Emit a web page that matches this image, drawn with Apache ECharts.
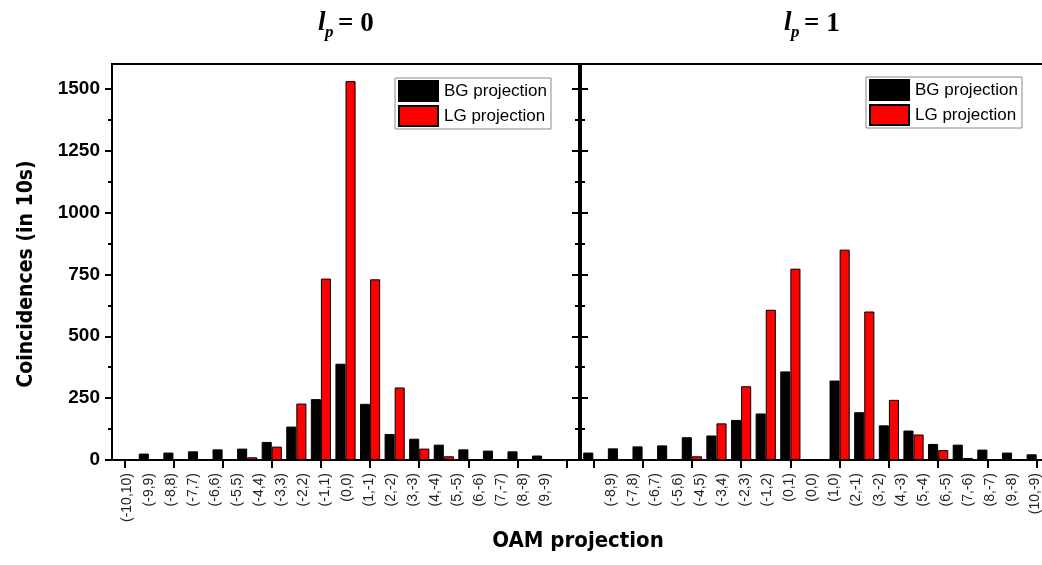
<!DOCTYPE html>
<html><head><meta charset="utf-8">
<script src="https://cdn.jsdelivr.net/npm/echarts@6/dist/echarts.min.js"></script>
<style>html,body{margin:0;padding:0;background:#fff}#c{width:1042px;height:565px}</style>
</head><body><div id="c"></div><script>
// ---- data ----
const leftCategories = ['(-9,9)','(-8,8)','(-7,7)','(-6,6)','(-5,5)','(-4,4)','(-3,3)','(-2,2)','(-1,1)','(0,0)','(1,-1)','(2,-2)','(3,-3)','(4,-4)','(5,-5)','(6,-6)','(7,-7)','(8,-8)','(9,-9)'];
const leftBG = [0,26,30,35,43,46,73,135,246,389,227,105,86,62,43,38,35,18,4];
const leftLG = [0,0,0,0,0,11,54,228,733,1531,730,293,46,15,0,0,0,0,0];
const rightCategories = ['(-8,9)','(-7,8)','(-6,7)','(-5,6)','(-4,5)','(-3,4)','(-2,3)','(-1,2)','(0,1)','(0,0)','(1,0)','(2,-1)','(3,-2)','(4,-3)','(5,-4)','(6,-5)','(7,-6)','(8,-7)','(9,-8)'];
const rightBG = [30,47,55,59,92,99,162,188,358,0,321,193,140,119,65,62,42,30,23];
const rightLG = [0,0,0,4,15,148,298,607,773,0,850,600,243,103,40,8,3,0,0];
const leftTickLabels = ['(-10,10)','(-9,9)','(-8,8)','(-7,7)','(-6,6)','(-5,5)','(-4,4)','(-3,3)','(-2,2)','(-1,1)','(0,0)','(1,-1)','(2,-2)','(3,-3)','(4,-4)','(5,-5)','(6,-6)','(7,-7)','(8,-8)','(9,-9)'];
const rightTickLabels = ['(-8,9)','(-7,8)','(-6,7)','(-5,6)','(-4,5)','(-3,4)','(-2,3)','(-1,2)','(0,1)','(0,0)','(1,0)','(2,-1)','(3,-2)','(4,-3)','(5,-4)','(6,-5)','(7,-6)','(8,-7)','(9,-8)','(10,-9)'];
const yTickValues = [0,250,500,750,1000,1250,1500];
const yMinorTickValues = [125,375,625,875,1125,1375];
const seriesNames = ['BG projection','LG projection'];
const panelTitles = [{l:'l', p:'p', rest:'= 0'}, {l:'l', p:'p', rest:'= 1'}];
const yTitle = 'Coincidences (in 10s)';
const xTitle = 'OAM projection';

// ---- style ----
const BLACK = '#000000', RED = '#ff0000';
const condensed = '"DejaVu Sans Condensed","Liberation Sans Narrow","DejaVu Sans",sans-serif';
const gridTop = 64, gridH = 396;

function yAxisCfg(gridIndex, position, opts) {
  return Object.assign({
    type: 'value', gridIndex, position, min: 0, max: 1600,
    axisLine: {show: false}, splitLine: {show: false},
    axisTick: {show: true, inside: false, length: 7, lineStyle: {color: BLACK, width: 2}, customValues: yTickValues},
    axisLabel: {show: false}
  }, opts || {});
}
function minorY(gridIndex, position, inside) {
  return {
    type: 'value', gridIndex, position, min: 0, max: 1600,
    axisLine: {show: false}, splitLine: {show: false},
    axisTick: {show: true, inside, length: 4, lineStyle: {color: BLACK, width: 2}, customValues: yMinorTickValues},
    axisLabel: {show: false}
  };
}
function barAxis(gridIndex, cats) {
  return {
    type: 'category', gridIndex, data: cats, position: 'bottom',
    axisLine: {show: false},
    axisTick: {show: true, alignWithLabel: true, length: 8, lineStyle: {color: BLACK, width: 2}},
    axisLabel: {show: false}, splitLine: {show: false}
  };
}
function labelAxis(gridIndex, labels) {
  return {
    type: 'category', gridIndex, data: labels, position: 'bottom',
    axisLine: {show: false}, axisTick: {show: false},
    axisLabel: {show: true, interval: 0, rotate: 90, margin: 13, fontSize: 14,
      fontFamily: '"Liberation Sans",Arial,sans-serif', color: '#222', hideOverlap: false}
  };
}
function legendCfg(left, top) {
  return {
    data: seriesNames, orient: 'vertical', left, top, icon: 'rect',
    itemWidth: 39, itemHeight: 20, itemGap: 3, padding: [2, 4, 2, 3],
    borderColor: '#8a8a8a', borderWidth: 1, backgroundColor: '#fff',
    textStyle: {fontSize: 17, fontFamily: '"Liberation Sans",Arial,sans-serif', color: BLACK, padding: [0,0,0,1]},
    selectedMode: false
  };
}
function bar(name, color, xi, yi, data) {
  return {
    name, type: 'bar', xAxisIndex: xi, yAxisIndex: yi, data,
    barGap: '0%', barCategoryGap: '18%',
    itemStyle: {color, borderColor: '#000', borderWidth: 1},
    emphasis: {disabled: true}, animation: false
  };
}
function titleGroup(x, t) {
  return {
    type: 'group', children: [
      {type: 'text', x: x, y: 23, style: {text: t.l, font: 'italic bold 27px "Liberation Serif",serif', fill: BLACK, textAlign: 'left', textVerticalAlign: 'middle'}},
      {type: 'text', x: x + 7, y: 33, style: {text: t.p, font: 'italic bold 17px "Liberation Serif",serif', fill: BLACK, textAlign: 'left', textVerticalAlign: 'middle'}},
      {type: 'text', x: x + 20, y: 24, style: {text: t.rest, font: 'bold 27px "Liberation Serif",serif', fill: BLACK, textAlign: 'left', textVerticalAlign: 'middle'}}
    ]
  };
}

const chart = echarts.init(document.getElementById('c'), null, {renderer: 'canvas'});
chart.setOption({
  animation: false,
  backgroundColor: '#ffffff',
  grid: [
    {left: 112, top: gridTop, width: 467, height: gridH, show: true, borderColor: BLACK, borderWidth: 2, backgroundColor: 'transparent', outerBoundsMode: 'none'},
    {left: 581, top: gridTop, width: 468, height: gridH, show: true, borderColor: BLACK, borderWidth: 2, backgroundColor: 'transparent', outerBoundsMode: 'none'},
    {left: 115.7, top: gridTop, width: 440.4, height: gridH, outerBoundsMode: 'none'},
    {left: 599.8, top: gridTop, width: 446.3, height: gridH, outerBoundsMode: 'none'}
  ],
  xAxis: [
    barAxis(0, leftCategories),
    barAxis(1, rightCategories),
    labelAxis(2, leftTickLabels),
    labelAxis(3, rightTickLabels)
  ],
  yAxis: [
    yAxisCfg(0, 'left', {axisLabel: {show: true, margin: 12, fontSize: 19, fontWeight: 'bold',
      fontFamily: '"Liberation Sans",Arial,sans-serif', color: BLACK, customValues: yTickValues,
      formatter: v => String(v)}}),
    minorY(0, 'left', false),
    yAxisCfg(0, 'right', {axisTick: {show: true, inside: true, length: 7, lineStyle: {color: BLACK, width: 2}, customValues: yTickValues}}),
    minorY(0, 'right', true),
    yAxisCfg(1, 'left', {axisTick: {show: true, inside: true, length: 7, lineStyle: {color: BLACK, width: 2}, customValues: yTickValues}}),
    minorY(1, 'left', true),
    {type: 'value', gridIndex: 2, show: false, min: 0, max: 1600},
    {type: 'value', gridIndex: 3, show: false, min: 0, max: 1600}
  ],
  legend: [legendCfg(395, 78), legendCfg(866, 77)],
  series: [
    bar(seriesNames[0], BLACK, 0, 0, leftBG),
    bar(seriesNames[1], RED, 0, 0, leftLG),
    bar(seriesNames[0], BLACK, 1, 4, rightBG),
    bar(seriesNames[1], RED, 1, 4, rightLG)
  ],
  graphic: [
    titleGroup(318, panelTitles[0]),
    titleGroup(784, panelTitles[1]),
    {type: 'text', x: 27, y: 274, rotation: Math.PI / 2,
      style: {text: yTitle, font: 'bold 21px ' + condensed, fill: BLACK, textAlign: 'center', textVerticalAlign: 'middle'}},
    {type: 'text', x: 578, y: 541,
      style: {text: xTitle, font: 'bold 22px ' + condensed, fill: BLACK, textAlign: 'center', textVerticalAlign: 'middle'}}
  ]
});
</script></body></html>
